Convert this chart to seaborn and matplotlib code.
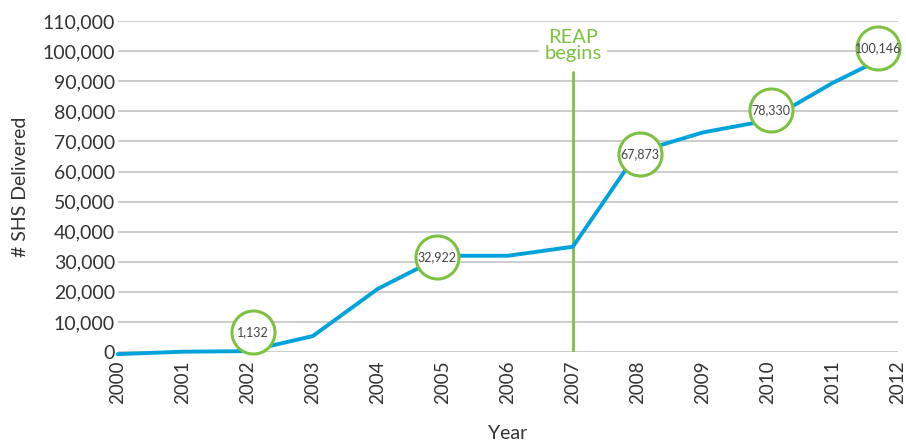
import matplotlib
matplotlib.use("Agg")
import matplotlib.pyplot as plt
import seaborn as sns
import pandas as pd

years = [2000, 2001, 2002, 2003, 2004, 2005, 2006, 2007, 2008, 2009, 2010, 2011, 2012]
shs = [-700, 100, 300, 5300, 21000, 32000, 32000, 35000, 66500, 73000, 77000, 89500, 100146]

label_years = [2002, 2005, 2008, 2010, 2012]
label_vals = [1132, 32922, 67873, 78330, 100146]
label_text = ["1,132", "32,922", "67,873", "78,330", "100,146"]
# circle offsets (layout only), in data units
label_dx = [0.08, -0.09, 0.03, 0.05, -0.31]
label_dy = [5500, -1300, -2100, 2100, 900]

yticks = list(range(0, 110001, 10000))
event_year = 2007
event_label = "REAP\nbegins"

sns.set_theme(style="white")
plt.rcParams["font.family"] = ["Lato", "DejaVu Sans"]

df = pd.DataFrame({"Year": years, "SHS": shs})

fig = plt.figure(figsize=(9.06, 4.41), dpi=100)
ax = fig.add_axes([0.130, 0.2018, 0.861, 0.7502])

for t in yticks:
    ax.axhline(t, color="#c8c8c8", lw=1.3, zorder=0)

sns.lineplot(data=df, x="Year", y="SHS", ax=ax, color="#00a2dc", lw=2.8,
             zorder=3, clip_on=False)

ax.plot([event_year, event_year], [0, 93000], color="#7dc142", lw=2, zorder=2)
ax.text(event_year, 102000, event_label, ha="center", va="center", color="#7dc142",
        fontsize=14.5, linespacing=0.9,
        bbox=dict(facecolor="white", edgecolor="none", pad=4), zorder=4)

for x, v, t, dx, dy in zip(label_years, label_vals, label_text, label_dx, label_dy):
    cx, cy = x + dx, v + dy
    ax.plot([cx], [cy], marker="o", ms=31, mfc="white", mec="#7dc142", mew=2.2,
            zorder=5, clip_on=False)
    ax.text(cx, cy, t, ha="center", va="center", fontsize=9, color="#444444",
            zorder=6)

ax.set_xlim(2000, 2012)
ax.set_ylim(0, 110000)
ax.set_yticks(yticks)
ax.set_yticklabels([f"{t:,}" for t in yticks], fontsize=14, color="#333333")
ax.set_xticks(years)
ax.set_xticklabels([str(y) for y in years], rotation=90, fontsize=13.5, color="#333333")
ax.tick_params(axis="y", length=0, pad=2)
ax.tick_params(axis="x", length=0, pad=6)
ax.set_xlabel("Year", fontsize=14, color="#333333", labelpad=15)
ax.set_ylabel("# SHS Delivered", fontsize=14, color="#333333", labelpad=10)
sns.despine(ax=ax, left=True, bottom=True)

fig.savefig("out.png", dpi=100)
